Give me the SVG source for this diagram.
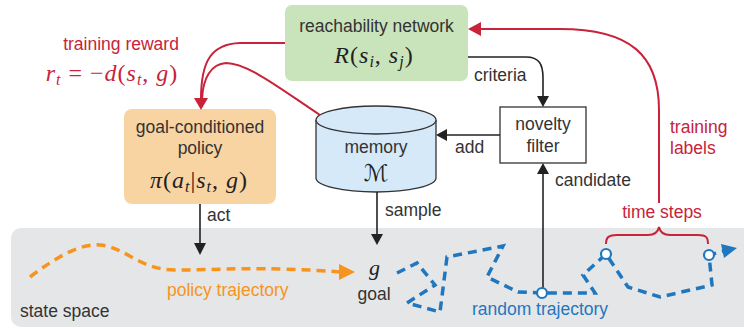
<svg xmlns="http://www.w3.org/2000/svg" width="744" height="329" viewBox="0 0 744 329">
<style>
.t{font-family:"Liberation Sans",Arial,sans-serif;font-size:17.5px;fill:#333}
.m{font-family:"Liberation Serif","Times New Roman",serif;font-size:24px;fill:#222;letter-spacing:1px}
.i{font-style:italic}
.red{fill:#c8233a}
.blu{fill:#1f77c0}
.org{fill:#f7941d}
.ln{fill:none;stroke:#222;stroke-width:1.6}
.rl{fill:none;stroke:#c8233a;stroke-width:2}
.bd{fill:none;stroke:#1f77c0;stroke-width:3.5;stroke-dasharray:9 6;stroke-linejoin:miter}
.od{fill:none;stroke:#f7941d;stroke-width:3.5;stroke-dasharray:9 6}
</style>
<g id="state-space">
<rect x="11" y="228" width="750" height="99" rx="10" fill="#e5e6e8"/>
<text class="t" x="20" y="317">state space</text>
</g>
<g id="reachability-network">
<rect x="285" y="5" width="183" height="76" rx="7" fill="#c9e4bb"/>
<text class="t" x="376.5" y="32" text-anchor="middle">reachability network</text>
<text class="m" x="374" y="63" text-anchor="middle"><tspan class="i">R</tspan>(<tspan class="i">s</tspan><tspan class="i" font-size="16" dy="4">i</tspan><tspan dy="-4">,  </tspan><tspan class="i">s</tspan><tspan class="i" font-size="16" dy="4">j</tspan><tspan dy="-4">)</tspan></text>
</g>
<g id="policy">
<rect x="124" y="109" width="152" height="95" rx="8" fill="#f9d4a3"/>
<text class="t" x="200" y="133" text-anchor="middle">goal-conditioned</text>
<text class="t" x="200" y="154" text-anchor="middle">policy</text>
<text class="m" x="199" y="188" text-anchor="middle"><tspan class="i">π</tspan>(<tspan class="i">a</tspan><tspan class="i" font-size="16" dy="4">t</tspan><tspan dy="-4">|</tspan><tspan class="i">s</tspan><tspan class="i" font-size="16" dy="4">t</tspan><tspan dy="-4">,  </tspan><tspan class="i">g</tspan>)</text>
</g>
<g id="memory">
<path d="M316 120 L316 178 A60 14 0 0 0 436 178 L436 120" fill="#d5e9f8" stroke="#333" stroke-width="1.3"/>
<ellipse cx="376" cy="120" rx="60" ry="14" fill="#d5e9f8" stroke="#333" stroke-width="1.3"/>
<text class="t" x="376" y="153" text-anchor="middle">memory</text>
<text x="376" y="181" text-anchor="middle" style="font-family:'DejaVu Serif','DejaVu Sans',serif;font-size:23px;fill:#222">ℳ</text>
</g>
<g id="novelty-filter">
<rect x="500" y="107" width="86" height="56" fill="#fff" stroke="#333" stroke-width="1.3"/>
<text class="t" x="543" y="130" text-anchor="middle">novelty</text>
<text class="t" x="543" y="152" text-anchor="middle">filter</text>
</g>
<g id="goal">
<text class="m i" x="375" y="275" text-anchor="middle" style="font-size:22px">g</text>
<text class="t" x="374" y="300" text-anchor="middle">goal</text>
</g>
<g id="connectors">
<path class="ln" d="M468 57 L526 57 C539 57 543 64 543 78 L543 97"/>
<polygon points="537,96 549,96 543,107" fill="#222"/>
<text class="t" x="474" y="81">criteria</text>
<path class="ln" d="M500 135 L446 135"/>
<polygon points="447,129 447,141 436,135" fill="#222"/>
<text class="t" x="455" y="153">add</text>
<path class="ln" d="M543 288 L543 174"/>
<polygon points="537,174 549,174 543,163" fill="#222"/>
<text class="t" x="555" y="186">candidate</text>
<path class="ln" d="M377 192 L377 235"/>
<polygon points="371,234 383,234 377,245" fill="#222"/>
<text class="t" x="385" y="216">sample</text>
<path class="ln" d="M200 204 L200 244"/>
<polygon points="194,243 206,243 200,255" fill="#222"/>
<text class="t" x="207" y="221">act</text>
<path class="rl" d="M285 43 L240 43 C212 44 201 60 201 99"/>
<path class="rl" d="M320 115 C282 90 248 63 226 63 C211 64 203 78 202 99"/>
<polygon points="194,98 208,98 201,110" fill="#c8233a"/>
<text class="t red" x="121" y="50" text-anchor="middle">training reward</text>
<text class="m red" x="112" y="81" text-anchor="middle"><tspan class="i">r</tspan><tspan class="i" font-size="16" dy="4">t</tspan><tspan dy="-4"> = −</tspan><tspan class="i">d</tspan>(<tspan class="i">s</tspan><tspan class="i" font-size="16" dy="4">t</tspan><tspan dy="-4">,  </tspan><tspan class="i">g</tspan>)</text>
<path class="rl" d="M659 203 L659 110 C659 55 630 29 560 29 L480 29"/>
<polygon points="481,22 481,36 468,29" fill="#c8233a"/>
<text class="t red" x="670" y="133">training</text>
<text class="t red" x="670" y="154">labels</text>
<text class="t red" x="662" y="218" text-anchor="middle">time steps</text>
<path class="rl" stroke-width="1.6" d="M606 244 C606 237 609 235 617 235 L648 235 C655 235 658 232 659 227 C660 232 663 235 670 235 L698 235 C706 235 708 237 708 244"/>
<path class="od" d="M30 277 C55 258 80 243 100 245 C125 247 140 270 175 270 C220 270 260 266 341 272"/>
<polygon points="339,264 355,272 339,280" fill="#f7941d"/>
<text class="t org" x="167" y="296">policy trajectory</text>
<polyline class="bd" points="397,273 417,263 435,285 407,303 440,312 447,257 503,246 487,277 518,292 542,293 595,293 583,275 606,254 628,287 660,297 712,285 709,255 724,251"/>
<polygon points="721,244 737,248 724,258" fill="#1f77c0"/>
<circle cx="542" cy="293" r="5" fill="#fff" stroke="#1f77c0" stroke-width="2.2"/>
<circle cx="606" cy="254" r="5" fill="#fff" stroke="#1f77c0" stroke-width="2.2"/>
<circle cx="709" cy="255" r="5" fill="#fff" stroke="#1f77c0" stroke-width="2.2"/>
<text class="t blu" x="540" y="315" text-anchor="middle">random trajectory</text>
</g>
</svg>
